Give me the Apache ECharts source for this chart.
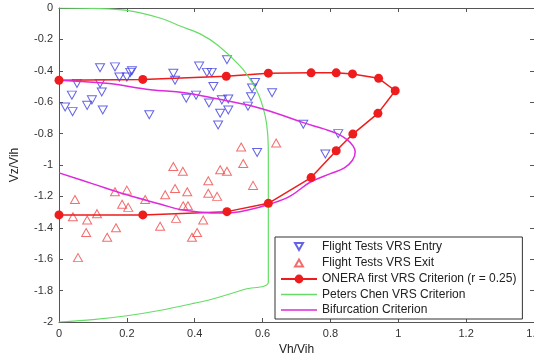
<!DOCTYPE html>
<html>
<head>
<meta charset="utf-8">
<script src="https://cdn.jsdelivr.net/npm/echarts@6/dist/echarts.min.js"></script>
<style>
  html, body { margin: 0; padding: 0; background: #fff; }
  #chart { width: 534px; height: 357px; }
</style>
</head>
<body>
<div id="chart"></div>
<script>
// Flight test points (Vh/Vih, Vz/Vih)
const vrsEntry = [
  [0.018, -0.63], [0.04, -0.66], [0.053, -0.48], [0.038, -0.555], [0.083, -0.62],
  [0.097, -0.585], [0.121, -0.38], [0.121, -0.48], [0.126, -0.535], [0.129, -0.65],
  [0.165, -0.375], [0.178, -0.44], [0.2, -0.44], [0.21, -0.41], [0.215, -0.40],
  [0.266, -0.68], [0.337, -0.415], [0.342, -0.46], [0.375, -0.575], [0.404, -0.555],
  [0.413, -0.37], [0.436, -0.41], [0.45, -0.41], [0.455, -0.50], [0.495, -0.33],
  [0.442, -0.605], [0.48, -0.585], [0.499, -0.58], [0.475, -0.67], [0.499, -0.65],
  [0.469, -0.745], [0.578, -0.475], [0.569, -0.51], [0.566, -0.565], [0.557, -0.625],
  [0.628, -0.54], [0.72, -0.74], [0.823, -0.80], [0.584, -0.92], [0.785, -0.93]
];
const vrsExit = [
  [0.047, -1.22], [0.041, -1.33], [0.083, -1.35], [0.08, -1.43], [0.056, -1.59],
  [0.112, -1.31], [0.142, -1.46], [0.168, -1.40], [0.165, -1.17], [0.2, -1.16],
  [0.186, -1.25], [0.204, -1.27], [0.254, -1.22], [0.298, -1.39], [0.313, -1.19],
  [0.342, -1.15], [0.345, -1.34], [0.378, -1.17], [0.366, -1.26], [0.38, -1.26],
  [0.392, -1.46], [0.407, -1.43], [0.337, -1.01], [0.365, -1.04], [0.44, -1.10],
  [0.475, -1.03], [0.495, -1.04], [0.44, -1.18], [0.466, -1.20], [0.572, -1.13],
  [0.425, -1.35], [0.537, -0.885], [0.64, -0.86], [0.543, -0.99]
];

// ONERA first VRS criterion (r = 0.25)
const oneraX = [0, 0.247, 0.493, 0.617, 0.743, 0.817, 0.865, 0.942, 0.991,
                0.94, 0.866, 0.817, 0.743, 0.617, 0.495, 0.247, 0];
const oneraY = [-0.46, -0.455, -0.435, -0.415, -0.413, -0.413, -0.42, -0.448, -0.527,
                -0.671, -0.803, -0.909, -1.08, -1.244, -1.297, -1.318, -1.318];

// Peters-Chen VRS boundary
const petersX = [0, 0.1, 0.2, 0.3, 0.357, 0.416, 0.47, 0.534, 0.565, 0.59, 0.608, 0.615,
                 0.617, 0.617, 0.55, 0.45, 0.4, 0.3, 0.2, 0.1, 0];
const petersY = [0, -0.003, -0.015, -0.065, -0.115, -0.165, -0.24, -0.37, -0.46, -0.56, -0.69, -0.8,
                 -0.95, -1.745, -1.79, -1.855, -1.88, -1.925, -1.96, -1.985, -2];

// Bifurcation criterion
const bifX = [0, 0.14, 0.27, 0.37, 0.47, 0.56, 0.64, 0.72, 0.78, 0.82, 0.85, 0.867, 0.873,
              0.865, 0.84, 0.8, 0.74, 0.68, 0.62, 0.56, 0.5, 0.45, 0.36, 0.3, 0.2, 0.1, 0];
const bifY = [-0.46, -0.48, -0.52, -0.54, -0.58, -0.62, -0.67, -0.73, -0.77, -0.80, -0.84, -0.88, -0.915,
              -0.97, -1.02, -1.055, -1.11, -1.2, -1.25, -1.285, -1.305, -1.305, -1.285, -1.25, -1.19, -1.12, -1.05];

const xTicks = { min: 0, max: 1.4, interval: 0.2 };
const yTicks = { min: -2, max: 0, interval: 0.2 };

const pair = (xs, ys) => xs.map((x, i) => [x, ys[i]]);

const font = 'Liberation Sans, Arial, Helvetica, sans-serif';
const axisColor = '#555';
const invTri = 'path://M0,0L10,0L5,8.66Z';

// Legend icons: the leading moves pin the icon box to 36x11 so the glyph keeps its size
const iconEntry = 'path://M0,0M36,11M14,2L22,2L18,9Z';
const iconExit = 'path://M0,0M36,11M14,9L22,9L18,2Z';
const iconLine = 'path://M0,0M36,11M0,4.8L36,4.8L36,6.2L0,6.2Z';

const baseAxis = {
  type: 'value',
  axisLine: { show: true, onZero: false, lineStyle: { color: axisColor, width: 1 } },
  axisTick: { show: true, inside: true, length: 4, lineStyle: { color: axisColor } },
  splitLine: { show: false }
};

const chart = echarts.init(document.getElementById('chart'), null, { renderer: 'canvas' });
chart.setOption({
  animation: false,
  backgroundColor: '#fff',
  grid: { left: 59, top: 8, width: 475, height: 314, containLabel: false, outerBoundsMode: 'none' },
  xAxis: [
    Object.assign({}, baseAxis, xTicks, {
      position: 'bottom',
      name: 'Vh/Vih', nameLocation: 'middle', nameGap: 18,
      nameTextStyle: { fontFamily: font, fontSize: 12, color: '#222' },
      axisLabel: { fontFamily: font, fontSize: 11, color: '#333', margin: 6 }
    }),
    Object.assign({}, baseAxis, xTicks, { position: 'top', axisLabel: { show: false } })
  ],
  yAxis: [
    Object.assign({}, baseAxis, yTicks, {
      position: 'left',
      name: 'Vz/Vih', nameLocation: 'middle', nameGap: 38,
      nameTextStyle: { fontFamily: font, fontSize: 12, color: '#222' },
      axisLabel: { fontFamily: font, fontSize: 11, color: '#333', margin: 6 }
    }),
    Object.assign({}, baseAxis, yTicks, { position: 'right', axisLabel: { show: false } })
  ],
  legend: {
    orient: 'vertical',
    left: 275, top: 237,
    padding: [3, 6, 3, 5],
    itemWidth: 36, itemHeight: 11, itemGap: 3.5,
    backgroundColor: '#fff',
    borderColor: '#333', borderWidth: 1,
    textStyle: { fontFamily: font, fontSize: 12, color: '#222', lineHeight: 11 },
    data: [
      { name: 'Flight Tests VRS Entry', icon: iconEntry },
      { name: 'Flight Tests VRS Exit', icon: iconExit },
      { name: 'ONERA first VRS Criterion (r = 0.25)' },
      { name: 'Peters Chen VRS Criterion', icon: iconLine },
      { name: 'Bifurcation Criterion', icon: iconLine }
    ]
  },
  series: [
    {
      name: 'Flight Tests VRS Entry', type: 'scatter',
      data: vrsEntry, symbol: invTri, symbolSize: [9, 8],
      itemStyle: { color: 'rgba(255,255,255,0)', borderColor: '#3c3ce0', borderWidth: 1 }
    },
    {
      name: 'Flight Tests VRS Exit', type: 'scatter',
      data: vrsExit, symbol: 'triangle', symbolSize: [9, 8],
      itemStyle: { color: 'rgba(255,255,255,0)', borderColor: '#f04848', borderWidth: 1 }
    },
    {
      name: 'ONERA first VRS Criterion (r = 0.25)', type: 'line',
      data: pair(oneraX, oneraY), symbol: 'circle', symbolSize: 9, showSymbol: true,
      lineStyle: { color: '#ee1c1c', width: 1.5 },
      itemStyle: { color: '#ee1c1c', borderWidth: 0 }
    },
    {
      name: 'Peters Chen VRS Criterion', type: 'line',
      data: pair(petersX, petersY), symbol: 'none', smooth: 0.3,
      lineStyle: { color: '#66dd66', width: 1.2 },
      itemStyle: { color: '#66dd66' }
    },
    {
      name: 'Bifurcation Criterion', type: 'line',
      data: pair(bifX, bifY), symbol: 'none', smooth: 0.4,
      lineStyle: { color: '#dd2add', width: 1.5 },
      itemStyle: { color: '#dd2add' }
    }
  ]
});
</script>
</body>
</html>
